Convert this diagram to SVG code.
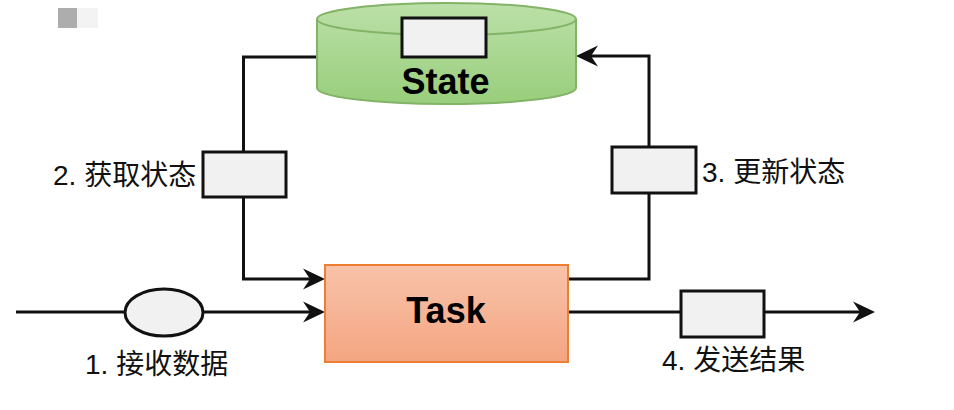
<svg xmlns="http://www.w3.org/2000/svg" width="954" height="410" viewBox="0 0 954 410">
  <style>
    .edge { fill: none; stroke: #111; stroke-width: 3; marker-end: url(#arrow); }
    .edge-plain { fill: none; stroke: #111; stroke-width: 3; }
    .msg { fill: #F1F1F1; stroke: #111; stroke-width: 3; }
    .title { font-family: "Liberation Sans", Arial, sans-serif; font-weight: bold; font-size: 36px; fill: #000; text-anchor: middle; }
    .label { font-family: "Liberation Sans", "Noto Sans CJK SC", sans-serif; font-size: 28px; fill: #111; }
  </style>
  <defs>
    <linearGradient id="gradGreen" x1="0" y1="0" x2="0" y2="1">
      <stop offset="0" stop-color="#BCE0A9"/>
      <stop offset="1" stop-color="#98CE7B"/>
    </linearGradient>
    <linearGradient id="gradOrange" x1="0" y1="0" x2="0" y2="1">
      <stop offset="0" stop-color="#F8C3A9"/>
      <stop offset="1" stop-color="#F4A582"/>
    </linearGradient>
    <marker id="arrow" markerUnits="userSpaceOnUse" markerWidth="24" markerHeight="24" refX="7" refY="12" orient="auto">
      <path d="M22,12 L0,1.5 L7,12 L0,22.5 Z" fill="#111"/>
    </marker>
  </defs>

  <rect width="954" height="410" fill="#FFFFFF"/>

  <!-- toolbar swatches at the top-left -->
  <rect x="58" y="8" width="19" height="20" fill="#ADADAD"/>
  <rect x="77" y="8" width="21" height="20" fill="#F3F3F3"/>

  <!-- connectors -->
  <g id="connectors">
    <path class="edge" d="M317,57 L243.5,57 L243.5,279 L310,279"/>
    <path class="edge" d="M568,279 L649,279 L649,56 L591,56"/>
    <path class="edge" d="M16,312 L310,312"/>
    <path class="edge" d="M568,312 L860,312"/>
  </g>

  <!-- state store -->
  <g id="state">
    <path d="M317,19 A129.5,16 0 0 1 576,19 L576,88 A129.5,16 0 0 1 317,88 Z" fill="url(#gradGreen)" stroke="#82B366" stroke-width="2"/>
    <path d="M317,19 A129.5,16 0 0 0 576,19" fill="none" stroke="#82B366" stroke-width="2"/>
    <rect class="msg" x="402" y="18" width="84" height="39"/>
    <text class="title" x="445.5" y="94">State</text>
  </g>

  <!-- task -->
  <g id="task">
    <rect x="325" y="265" width="243" height="97" fill="url(#gradOrange)" stroke="#EE7E33" stroke-width="2"/>
    <text class="title" x="446" y="323">Task</text>
  </g>

  <!-- messages on the edges -->
  <g id="msg-receive">
    <ellipse class="msg" cx="164" cy="312.5" rx="39" ry="23.5"/>
    <text class="label" x="85" y="374">1. 接收数据</text>
  </g>
  <g id="msg-get-state">
    <rect class="msg" x="203" y="152" width="83" height="45"/>
    <text class="label" x="53" y="185">2. 获取状态</text>
  </g>
  <g id="msg-update-state">
    <rect class="msg" x="612" y="147" width="84" height="46"/>
    <text class="label" x="702" y="182">3. 更新状态</text>
  </g>
  <g id="msg-send-result">
    <rect class="msg" x="681" y="291" width="83" height="46"/>
    <text class="label" x="662" y="370">4. 发送结果</text>
  </g>
</svg>
